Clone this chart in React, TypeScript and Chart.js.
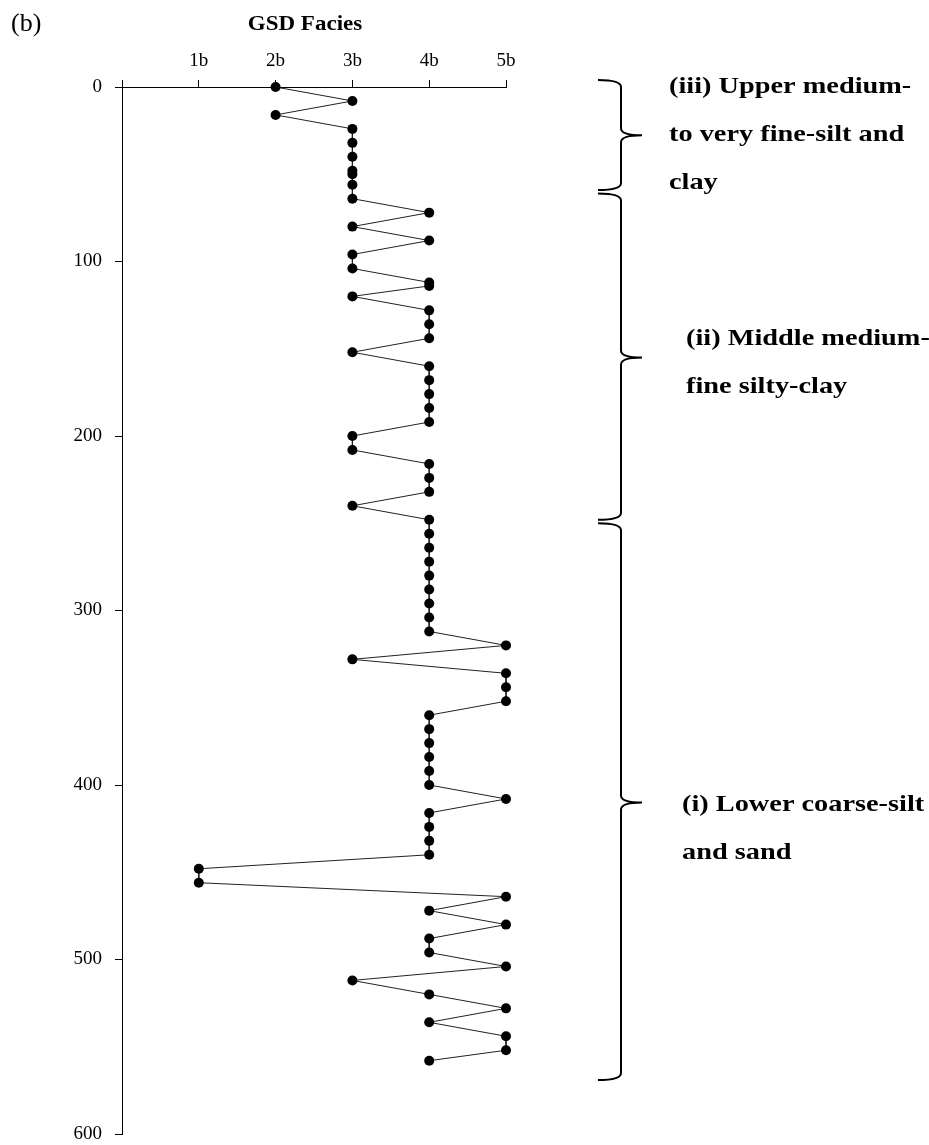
import React, { useEffect, useRef } from "react";
import { Chart, registerables } from "chart.js";

Chart.register(...registerables);

// Depth (cm) of each sample and its GSD facies class (1 = 1b ... 5 = 5b)
const depths = [
  0, 8, 16, 24, 32, 40, 48, 50, 56, 64, 72, 80, 88, 96, 104, 112, 114, 120, 128, 136,
  144, 152, 160, 168, 176, 184, 192, 200, 208, 216, 224, 232, 240, 248, 256, 264, 272,
  280, 288, 296, 304, 312, 320, 328, 336, 344, 352, 360, 368, 376, 384, 392, 400, 408,
  416, 424, 432, 440, 448, 456, 464, 472, 480, 488, 496, 504, 512, 520, 528, 536, 544,
  552, 558,
];
const facies = [
  2, 3, 2, 3, 3, 3, 3, 3, 3, 3, 4, 3, 4, 3, 3, 4, 4, 3, 4, 4,
  4, 3, 4, 4, 4, 4, 4, 3, 3, 4, 4, 4, 3, 4, 4, 4, 4,
  4, 4, 4, 4, 4, 5, 3, 5, 5, 5, 4, 4, 4, 4, 4, 4, 5,
  4, 4, 4, 4, 1, 1, 5, 4, 5, 4, 4, 5, 3, 4, 5, 4, 5,
  5, 4,
];

const xTickValues = [0, 1, 2, 3, 4, 5];
const xTickLabels = ["", "1b", "2b", "3b", "4b", "5b"];

// Facies zones shown by braces (depth units)
const zoneStart = [-4, 61, 250];
const zoneEnd = [59, 248, 569];
const zoneTip = [27.7, 155, 410];
const zoneLabels = [
  ["(iii) Upper medium-", "to very fine-silt and", "clay"],
  ["(ii) Middle medium-", "fine silty-clay"],
  ["(i) Lower coarse-silt", "and sand"],
];
const zoneLabelX = [669, 686, 682];
const zoneLabelBaseline = [93, 345, 811];

const SERIF = '"Liberation Serif", "Times New Roman", serif';

function stretchedText(ctx: CanvasRenderingContext2D, text: string, x: number, y: number, sx: number, align: "left" | "center" = "left") {
  ctx.save();
  ctx.translate(x, y);
  ctx.scale(sx, 1);
  ctx.textAlign = align;
  ctx.fillText(text, 0, 0);
  ctx.restore();
}

const annotationPlugin = {
  id: "annotations",
  afterDraw(chart: any) {
    const ctx = chart.ctx as CanvasRenderingContext2D;
    const y = chart.scales.y;
    ctx.save();
    ctx.fillStyle = "#000";
    ctx.textBaseline = "alphabetic";
    // panel label
    ctx.font = `26px ${SERIF}`;
    ctx.fillText("(b)", 11, 31);
    // axis title
    ctx.font = `bold 20px ${SERIF}`;
    stretchedText(ctx, "GSD Facies", 305, 30, 1.15, "center");

    // braces
    const bx = 621;
    const hookX = 598;
    const tipX = 642;
    ctx.strokeStyle = "#000";
    ctx.lineWidth = 2;
    for (let i = 0; i < zoneStart.length; i++) {
      const t = y.getPixelForValue(zoneStart[i]);
      const b = y.getPixelForValue(zoneEnd[i]);
      const m = y.getPixelForValue(zoneTip[i]);
      const r = 7;
      ctx.beginPath();
      ctx.moveTo(hookX, t);
      ctx.quadraticCurveTo(bx, t, bx, t + r);
      ctx.lineTo(bx, m - r);
      ctx.quadraticCurveTo(bx, m, tipX, m);
      ctx.quadraticCurveTo(bx, m, bx, m + r);
      ctx.lineTo(bx, b - r);
      ctx.quadraticCurveTo(bx, b, hookX, b);
      ctx.stroke();

      // labels
      ctx.font = `bold 24px ${SERIF}`;
      const lines = zoneLabels[i];
      for (let j = 0; j < lines.length; j++) {
        stretchedText(ctx, lines[j], zoneLabelX[i], zoneLabelBaseline[i] + j * 48, 1.18);
      }
    }
    ctx.restore();
  },
};

export default function App() {
  const ref = useRef<HTMLCanvasElement | null>(null);

  useEffect(() => {
    if (!ref.current) return;
    const points = depths.map((d, i) => ({ x: facies[i], y: d }));
    const chart = new Chart(ref.current, {
      type: "scatter",
      data: {
        datasets: [
          {
            data: points,
            showLine: true,
            borderColor: "#222",
            borderWidth: 1,
            pointRadius: 5,
            pointBackgroundColor: "#000",
            pointBorderColor: "#000",
            pointBorderWidth: 0,
            clip: false,
          } as any,
        ],
      },
      options: {
        responsive: false,
        animation: false,
        events: [],
        plugins: { legend: { display: false }, tooltip: { enabled: false } },
        layout: { padding: { left: 0, top: 0, right: 423, bottom: 11 } },
        scales: {
          x: {
            type: "linear",
            position: "top",
            min: 0,
            max: 5,
            afterBuildTicks: (s: any) => {
              s.ticks = xTickValues.map((v) => ({ value: v }));
            },
            ticks: {
              callback: (v: any) => xTickLabels[xTickValues.indexOf(Number(v))] ?? "",
              font: { family: SERIF, size: 19 },
              color: "#000",
              padding: 8,
              maxRotation: 0,
            },
            grid: { drawOnChartArea: false, drawTicks: true, tickLength: 7, color: "#000", lineWidth: 1 },
            border: { display: true, color: "#000", width: 1 },
            afterFit: (s: any) => {
              s.height = 87;
              s.paddingLeft = 0;
              s.paddingRight = 0;
            },
          },
          y: {
            type: "linear",
            reverse: true,
            min: 0,
            max: 600,
            ticks: {
              stepSize: 100,
              font: { family: SERIF, size: 19 },
              color: "#000",
              padding: 13,
            },
            grid: { drawOnChartArea: false, drawTicks: true, tickLength: 7, color: "#000", lineWidth: 1 },
            border: { display: true, color: "#000", width: 1 },
            afterFit: (s: any) => {
              s.width = 122;
              s.paddingTop = 0;
              s.paddingBottom = 0;
            },
          },
        },
      },
      plugins: [annotationPlugin],
    });
    return () => chart.destroy();
  }, []);

  return (
    <div style={{ position: "fixed", left: 0, top: 0, width: 929, height: 1145, background: "#fff" }}>
      <canvas ref={ref} width={929} height={1145} style={{ display: "block", width: 929, height: 1145 }} />
    </div>
  );
}
